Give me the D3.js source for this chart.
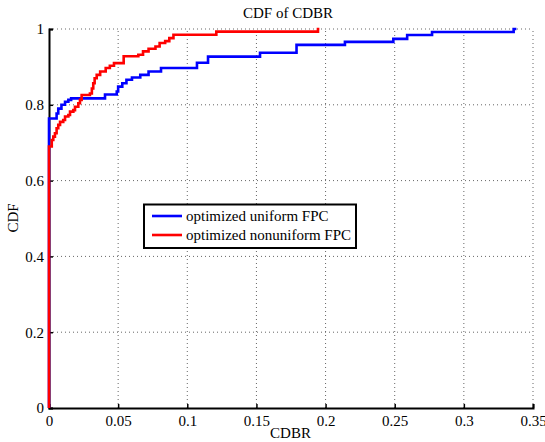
<!DOCTYPE html>
<html><head><meta charset="utf-8">
<script src="https://cdn.jsdelivr.net/npm/d3@7"></script>
<style>body{margin:0;background:#fff}text{font-family:"Liberation Serif","Times New Roman",serif;fill:#000}</style>
</head><body>
<script>
const xTicks = [0, 0.05, 0.1, 0.15, 0.2, 0.25, 0.3, 0.35];
const yTicks = [0, 0.2, 0.4, 0.6, 0.8, 1];
const seriesNames = ["optimized uniform FPC", "optimized nonuniform FPC"];
const seriesColors = ["#0000ff", "#ff0000"];
const uniformX = [0, 0, 0.0055, 0.0067, 0.009, 0.0116, 0.014, 0.016, 0.0405, 0.049, 0.050, 0.053, 0.056, 0.060, 0.066, 0.072, 0.081, 0.107, 0.115, 0.1526, 0.179, 0.214, 0.249, 0.259, 0.277, 0.336, 0.338];
const uniformY = [0, 0.764, 0.777, 0.79, 0.80, 0.808, 0.813, 0.817, 0.827, 0.835, 0.848, 0.857, 0.866, 0.872, 0.879, 0.888, 0.897, 0.911, 0.927, 0.9375, 0.958, 0.966, 0.974, 0.984, 0.992, 1.0, 1.0];
const nonuniformX = [0, 0, 0.002, 0.0031, 0.0043, 0.0055, 0.0067, 0.008, 0.0103, 0.0116, 0.014, 0.0152, 0.0176, 0.0188, 0.0212, 0.0224, 0.0236, 0.0296, 0.031, 0.032, 0.033, 0.0345, 0.037, 0.041, 0.044, 0.047, 0.054, 0.0646, 0.068, 0.072, 0.077, 0.080, 0.084, 0.087, 0.090, 0.121, 0.1945, 0.1955];
const nonuniformY = [0, 0.69, 0.707, 0.716, 0.725, 0.738, 0.747, 0.755, 0.76, 0.769, 0.773, 0.782, 0.786, 0.795, 0.804, 0.813, 0.826, 0.83, 0.843, 0.857, 0.87, 0.879, 0.888, 0.897, 0.903, 0.91, 0.928, 0.932, 0.941, 0.948, 0.954, 0.963, 0.968, 0.976, 0.985, 0.993, 1.0, 1.0];

const W = 545, H = 442;
const FONT = '"Liberation Serif","Times New Roman",serif';
const svg = d3.select("body").append("svg").attr("width", W).attr("height", H);
const x = d3.scaleLinear().domain([0, 0.35]).range([49, 533]);
const y = d3.scaleLinear().domain([0, 1]).range([408, 29]);

// grid
const g = svg.append("g");
g.selectAll(".vg").data(xTicks.slice(1)).enter().append("line")
  .attr("x1", d => x(d)).attr("x2", d => x(d)).attr("y1", y(0)).attr("y2", y(1))
  .attr("stroke", "#666").attr("stroke-width", 1).attr("stroke-dasharray", "1,3");
g.selectAll(".hg").data(yTicks.slice(1)).enter().append("line")
  .attr("y1", d => y(d)).attr("y2", d => y(d)).attr("x1", x(0)).attr("x2", x(0.35))
  .attr("stroke", "#666").attr("stroke-width", 1).attr("stroke-dasharray", "1,3");

// axes
const xAxis = d3.axisBottom(x).tickValues(xTicks).tickSize(-4).tickPadding(7).tickFormat(d => d3.format("")(d));
const yAxis = d3.axisLeft(y).tickValues(yTicks).tickSize(-4).tickPadding(5).tickFormat(d => d3.format("")(d));
const gx = svg.append("g").attr("transform", `translate(0,${y(0)})`).call(xAxis);
const gy = svg.append("g").attr("transform", `translate(${x(0)},0)`).call(yAxis);
[gx, gy].forEach(a => {
  a.attr("font-family", FONT).attr("font-size", 15);
  a.select(".domain").attr("stroke", "#000").attr("stroke-width", 2);
  a.selectAll(".tick line").attr("stroke", "#000").attr("stroke-width", 1.5);
  a.selectAll("text").style("font-family", FONT).style("font-size", "15px").attr("fill", "#000");
});

// lines
const line = d3.line().x(d => x(d[0])).y(d => y(d[1])).curve(d3.curveStepAfter);
const data = [d3.zip(uniformX, uniformY), d3.zip(nonuniformX, nonuniformY)];
data.forEach((pts, i) => {
  svg.append("path").datum(pts).attr("d", line).attr("fill", "none")
    .attr("stroke", seriesColors[i]).attr("stroke-width", 2.6).attr("stroke-linejoin", "miter");
});

// labels
svg.append("text").attr("x", 288).attr("y", 18).attr("text-anchor", "middle").style("font-size", "15px").text("CDF of CDBR");
svg.append("text").attr("x", 290.5).attr("y", 438).attr("text-anchor", "middle").style("font-size", "15px").text("CDBR");
svg.append("text").attr("transform", "translate(18,218) rotate(-90)").attr("text-anchor", "middle").style("font-size", "15px").text("CDF");

// legend
const lg = svg.append("g");
lg.append("rect").attr("x", 144).attr("y", 204.5).attr("width", 212).attr("height", 43.5)
  .attr("fill", "#fff").attr("stroke", "#000").attr("stroke-width", 2);
seriesNames.forEach((n, i) => {
  const yy = 216 + i * 19;
  lg.append("line").attr("x1", 152).attr("x2", 182).attr("y1", yy).attr("y2", yy)
    .attr("stroke", seriesColors[i]).attr("stroke-width", 2.6);
  lg.append("text").attr("x", 186).attr("y", yy + 5).style("font-size", "15px").text(n);
});
</script>
</body></html>
